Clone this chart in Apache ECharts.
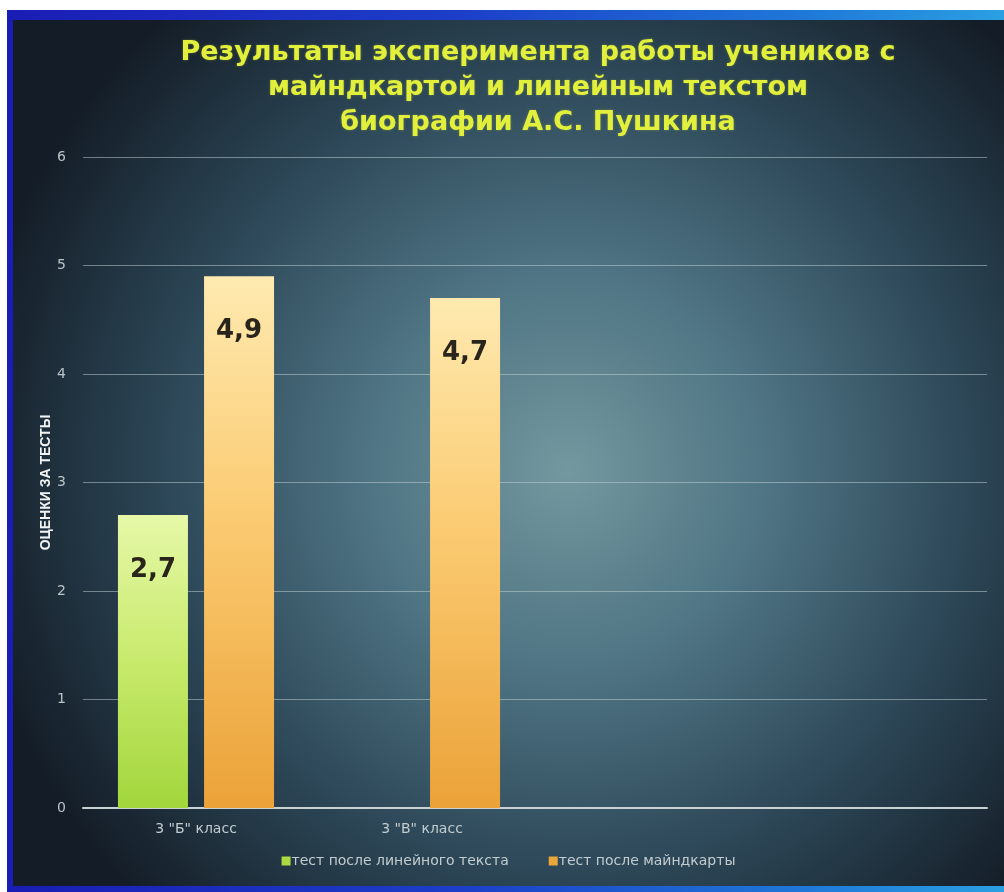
<!DOCTYPE html>
<html>
<head>
<meta charset="utf-8">
<script src="https://cdn.jsdelivr.net/npm/echarts@6/dist/echarts.min.js"></script>
<style>
  html, body { margin: 0; padding: 0; background: #ffffff; }
  #frame {
    position: absolute; left: 7px; top: 10px; width: 997px; height: 882px;
    background: linear-gradient(to right, #1a1db4 0%, #1c3ec8 45%, #1f78d8 80%, #2aa0e2 100%);
  }
  #chart {
    position: absolute; left: 13px; top: 20px; width: 991px; height: 866px;
  }
</style>
</head>
<body>
<div id="frame"></div>
<div id="chart"></div>
<script>
// Classes on the horizontal axis (two spare slots keep the slide's spacing)
const categories = ['3 "Б" класс', '3 "В" класс', '', ''];
// Average marks after working with plain linear text
const linearTextScores = [2.7, null, null, null];
// Average marks after working with the mind map
const mindMapScores = [4.9, 4.7, null, null];
const seriesNames = ['тест после линейного текста', 'тест после майндкарты'];
const titleLines = [
  'Результаты эксперимента работы учеников с',
  'майндкартой и линейным текстом',
  'биографии А.С. Пушкина'
];
const yAxisTitle = 'ОЦЕНКИ ЗА ТЕСТЫ';

const chart = echarts.init(document.getElementById('chart'));

const valueLabel = {
  show: true,
  position: 'insideTop',
  distance: 42,
  fontFamily: 'DejaVu Sans',
  fontSize: 26,
  fontWeight: 'bold',
  color: '#2a251c',
  formatter: p => String(p.value).replace('.', ',')
};

chart.setOption({
  backgroundColor: {
    type: 'radial', x: 0.56, y: 0.52, r: 0.7,
    colorStops: [
      { offset: 0, color: '#73989f' },
      { offset: 0.33, color: '#4f7483' },
      { offset: 0.68, color: '#2b4555' },
      { offset: 1, color: '#141d27' }
    ]
  },
  animation: false,
  graphic: [{
    type: 'text',
    x: 525, y: 15,
    style: {
      text: titleLines.join('\n'),
      align: 'center',
      verticalAlign: 'top',
      fontFamily: 'DejaVu Sans',
      fontSize: 27,
      fontWeight: 'bold',
      lineHeight: 35,
      fill: '#e2f03c',
      textShadowColor: 'rgba(220,240,60,0.3)',
      textShadowBlur: 3
    }
  }],
  grid: { left: 70, right: 17, top: 137, bottom: 78, containLabel: false },
  legend: {
    data: [
      { name: seriesNames[0], itemStyle: { color: '#a9da42' } },
      { name: seriesNames[1], itemStyle: { color: '#e9a73a' } }
    ],
    left: 'center',
    top: 829,
    icon: 'rect',
    itemWidth: 9,
    itemHeight: 9,
    itemGap: 40,
    textStyle: { color: '#c3cdd0', fontSize: 14, fontFamily: 'DejaVu Sans', padding: [0, 0, 0, -4] }
  },
  xAxis: {
    type: 'category',
    data: categories,
    axisLine: { lineStyle: { color: '#c8d1d3', width: 2 } },
    axisTick: { show: false },
    axisLabel: { color: '#c3cdd0', fontSize: 14, fontFamily: 'DejaVu Sans', margin: 14 }
  },
  yAxis: {
    type: 'value',
    min: 0, max: 6, interval: 1,
    name: yAxisTitle,
    nameLocation: 'middle',
    nameGap: 30,
    nameMoveOverlap: false,
    nameRotate: 90,
    nameTextStyle: { color: '#f2f4f4', fontSize: 14, fontWeight: 'bold', fontFamily: 'Liberation Sans' },
    axisLine: { show: false },
    axisTick: { show: false },
    axisLabel: { color: '#b8c3c7', fontSize: 14, fontFamily: 'DejaVu Sans', margin: 17 },
    splitLine: { lineStyle: { color: 'rgba(200,214,216,0.5)', width: 1 } }
  },
  series: [
    {
      name: seriesNames[0],
      type: 'bar',
      data: linearTextScores,
      barWidth: 70,
      barGap: '23%',
      itemStyle: {
        color: {
          type: 'linear', x: 0, y: 0, x2: 0, y2: 1,
          colorStops: [
            { offset: 0, color: '#e6f8a8' },
            { offset: 0.5, color: '#c8ea6c' },
            { offset: 1, color: '#a2d63c' }
          ]
        }
      },
      label: valueLabel
    },
    {
      name: seriesNames[1],
      type: 'bar',
      data: mindMapScores,
      barWidth: 70,
      itemStyle: {
        color: {
          type: 'linear', x: 0, y: 0, x2: 0, y2: 1,
          colorStops: [
            { offset: 0, color: '#feeab0' },
            { offset: 0.45, color: '#fbcb72' },
            { offset: 1, color: '#eba238' }
          ]
        }
      },
      label: valueLabel
    }
  ]
});
</script>
</body>
</html>
